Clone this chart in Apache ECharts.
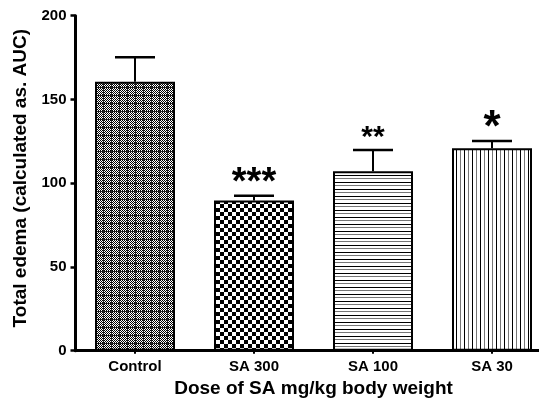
<!DOCTYPE html>
<html>
<head>
<meta charset="utf-8">
<script src="https://cdn.jsdelivr.net/npm/echarts@6/dist/echarts.min.js"></script>
<style>
html,body{margin:0;padding:0;background:#fff;overflow:hidden;width:539px;height:404px;}
#chart{width:552px;height:404px;}
</style>
</head>
<body>
<div id="chart"></div>
<script>
// ---- data ----
const categories = ['Control', 'SA 300', 'SA 100', 'SA 30'];
const meanValues = [160.6, 89.6, 107.1, 120.8];
const errorUpper = [175.2, 92.5, 119.8, 125.2];
const sigLabels = ['', '***', '**', '*'];
const yTicks = [0, 50, 100, 150, 200];

// ---- patterns ----
function makeCanvas(w, h, draw) {
  const c = document.createElement('canvas');
  c.width = w; c.height = h;
  const ctx = c.getContext('2d');
  ctx.fillStyle = '#fff'; ctx.fillRect(0, 0, w, h);
  draw(ctx);
  return c;
}
const patControl = makeCanvas(8, 8, ctx => {
  ctx.fillStyle = '#000';
  for (let y = 0; y < 8; y++) for (let x = 0; x < 8; x++) {
    if ((x + y) % 2 === 0) ctx.fillRect(x, y, 1, 1);
  }
  ctx.fillStyle = '#222';
  ctx.fillRect(0, 7, 8, 1);
  ctx.fillRect(7, 0, 1, 8);
});
const patSA300 = makeCanvas(8, 8, ctx => {
  ctx.fillStyle = '#000';
  ctx.fillRect(0, 0, 4, 4);
  ctx.fillRect(4, 4, 4, 4);
});
const patSA100 = makeCanvas(8, 7, ctx => {
  ctx.fillStyle = '#000';
  ctx.fillRect(0, 0, 8, 1);
  ctx.fillStyle = '#777';
  ctx.fillRect(0, 3, 8, 1);
});
const patSA30 = makeCanvas(8, 8, ctx => {
  ctx.fillStyle = '#000';
  ctx.fillRect(0, 0, 1, 8);
  ctx.fillStyle = '#777';
  ctx.fillRect(4, 0, 1, 8);
});
const patterns = [patControl, patSA300, patSA100, patSA30];
const starSizes = [0, 38, 30, 44];

const FONT = '"Liberation Sans", Arial, Helvetica, sans-serif';

const chart = echarts.init(document.getElementById('chart'), null, {renderer: 'canvas'});
const option = {
  animation: false,
  backgroundColor: '#fff',
  grid: {left: 75.5, right: 0.5, top: 15.7, bottom: 53.3, containLabel: false},
  xAxis: {
    type: 'category',
    data: categories,
    name: 'Dose of SA mg/kg body weight',
    nameLocation: 'middle',
    nameGap: 21,
    nameTextStyle: {fontFamily: FONT, fontWeight: 'bold', fontSize: 19, color: '#000'},
    axisLine: {show: true, lineStyle: {color: '#000', width: 3}},
    axisTick: {show: true, alignWithLabel: true, length: 3, lineStyle: {color: '#000', width: 2}},
    axisLabel: {fontFamily: FONT, fontWeight: 'bold', fontSize: 15, color: '#000', margin: 9},
    splitLine: {show: false}
  },
  yAxis: {
    type: 'value',
    min: 0, max: 200, interval: 50,
    name: 'Total edema (calculated as. AUC)',
    nameLocation: 'middle',
    nameGap: 45,
    nameTextStyle: {fontFamily: FONT, fontWeight: 'bold', fontSize: 19, color: '#000', padding: [0, 0, 0, 10]},
    axisLine: {show: true, lineStyle: {color: '#000', width: 3}},
    axisTick: {show: true, length: 5, lineStyle: {color: '#000', width: 2.5}},
    axisLabel: {fontFamily: FONT, fontWeight: 'bold', fontSize: 15, color: '#000', margin: 9,
      formatter: v => (yTicks.indexOf(v) >= 0 ? String(v) : '')},
    splitLine: {show: false}
  },
  series: [
    {
      type: 'bar',
      barWidth: 80,
      z: 1,
      data: meanValues.map((v, i) => ({
        value: v,
        itemStyle: {
          color: {image: patterns[i], repeat: 'repeat'},
          borderColor: '#000',
          borderWidth: 2
        }
      }))
    },
    {
      type: 'custom',
      z: 3,
      data: meanValues.map((v, i) => [i, v, errorUpper[i]]),
      renderItem: function (params, api) {
        const i = api.value(0);
        const pTop = api.coord([i, api.value(1)]);
        const pErr = api.coord([i, api.value(2)]);
        const x = pTop[0];
        const children = [
          {type: 'line', shape: {x1: x, y1: pTop[1], x2: x, y2: pErr[1]}, style: {stroke: '#000', lineWidth: 2}},
          {type: 'line', shape: {x1: x - 20, y1: pErr[1], x2: x + 20, y2: pErr[1]}, style: {stroke: '#000', lineWidth: 2.5}}
        ];
        const lbl = sigLabels[params.dataIndex];
        if (lbl) {
          const fs = starSizes[params.dataIndex];
          children.push({
            type: 'text',
            style: {
              text: lbl, x: x, y: pErr[1] - 14 + 0.05 * fs,
              align: 'center', verticalAlign: 'middle',
              fontFamily: FONT, fontWeight: 'bold', fontSize: fs, fill: '#000'
            }
          });
        }
        return {type: 'group', children: children};
      }
    }
  ]
};
chart.setOption(option);
</script>
</body>
</html>
